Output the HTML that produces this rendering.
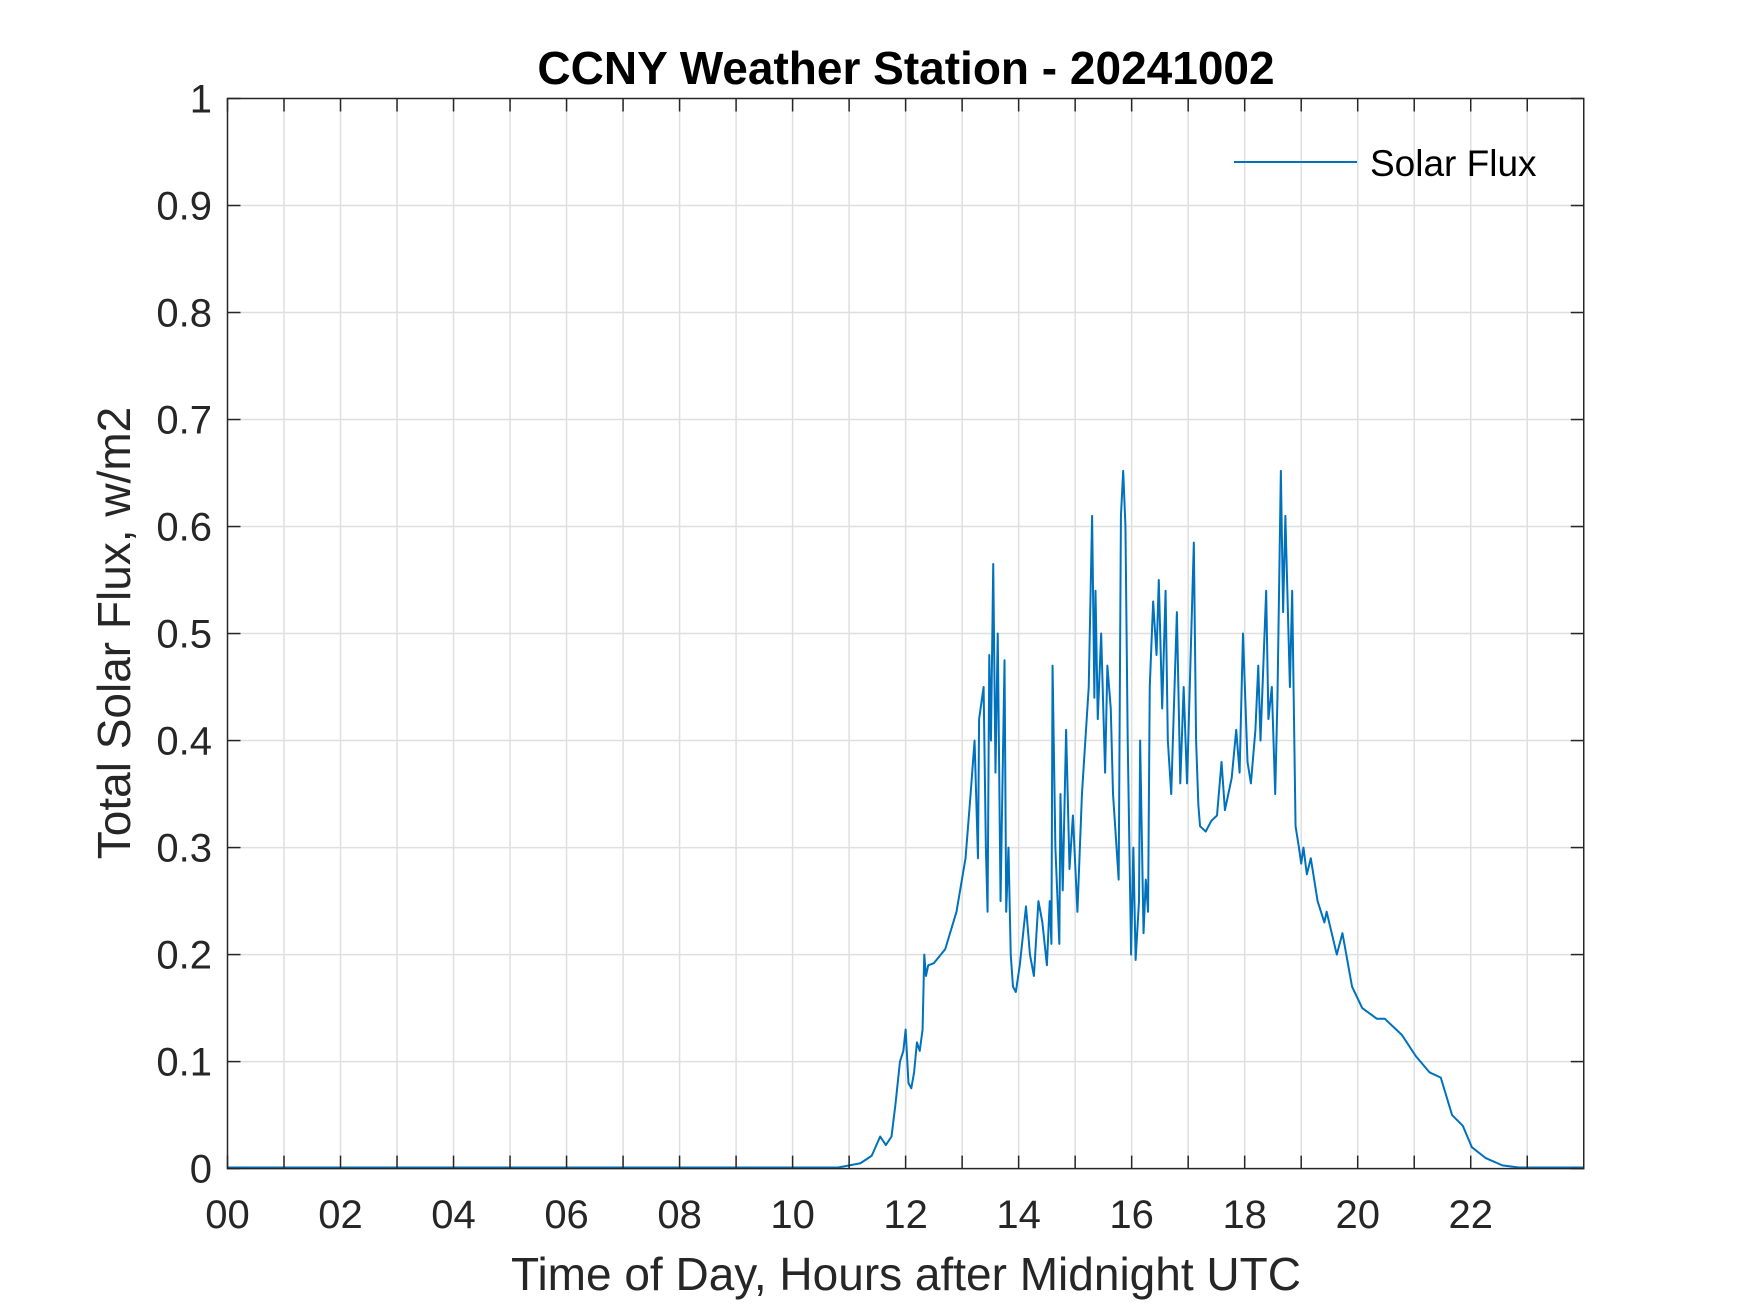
<!DOCTYPE html>
<html><head><meta charset="utf-8"><style>
html,body{margin:0;padding:0;background:#fff;}
svg{display:block;font-family:"Liberation Sans",Arial,sans-serif;}
</style></head><body>
<svg id="chart" width="1750" height="1313" viewBox="0 0 1750 1313" xmlns="http://www.w3.org/2000/svg">
<rect width="1750" height="1313" fill="#fff"/>
<g id="grid"></g>
<g id="series"></g>
<g id="axes"></g>
<text x="906" y="84" text-anchor="middle" font-size="46" font-weight="bold" fill="#000">CCNY Weather Station - 20241002</text>
<text x="906" y="1290" text-anchor="middle" font-size="46" fill="#262626">Time of Day, Hours after Midnight UTC</text>
<text transform="translate(130,633) rotate(-90)" text-anchor="middle" font-size="46" fill="#262626">Total Solar Flux, w/m2</text>
<g>
<line x1="1234" y1="162" x2="1357" y2="162" stroke="#0072BD" stroke-width="2"/>
<text x="1370" y="176" font-size="37" fill="#000">Solar Flux</text>
</g>
</svg>
<script>
const xTicks = [0,1,2,3,4,5,6,7,8,9,10,11,12,13,14,15,16,17,18,19,20,21,22,23,24];
const xTickLabels = ["00","","02","","04","","06","","08","","10","","12","","14","","16","","18","","20","","22","",""];
const yTicks = [0,0.1,0.2,0.3,0.4,0.5,0.6,0.7,0.8,0.9,1];
const yTickLabels = ["0","0.1","0.2","0.3","0.4","0.5","0.6","0.7","0.8","0.9","1"];
const hours = [0,2,4,6,8,10,10.8,10.9,11.2,11.4,11.55,11.65,11.75,11.82,11.9,11.96,12.0,12.05,12.1,12.15,12.2,12.25,12.3,12.33,12.36,12.4,12.5,12.7,12.9,13.06,13.15,13.22,13.28,13.3,13.38,13.42,13.45,13.48,13.51,13.55,13.59,13.63,13.68,13.75,13.78,13.82,13.86,13.9,13.95,14.02,14.13,14.2,14.27,14.35,14.42,14.5,14.55,14.58,14.6,14.65,14.72,14.74,14.78,14.84,14.9,14.96,15.04,15.12,15.24,15.3,15.34,15.36,15.4,15.46,15.53,15.57,15.63,15.67,15.77,15.81,15.85,15.89,15.93,15.99,16.03,16.07,16.13,16.15,16.21,16.25,16.29,16.32,16.38,16.44,16.48,16.54,16.6,16.64,16.7,16.8,16.86,16.92,16.98,17.1,17.14,17.18,17.21,17.31,17.41,17.51,17.59,17.65,17.77,17.85,17.91,17.97,18.05,18.11,18.19,18.24,18.28,18.38,18.42,18.48,18.54,18.58,18.64,18.68,18.72,18.8,18.84,18.9,18.96,19.0,19.04,19.1,19.17,19.29,19.41,19.45,19.63,19.73,19.9,20.08,20.34,20.48,20.68,20.78,21.03,21.27,21.47,21.67,21.86,22.02,22.26,22.56,22.85,23.2,24];
const flux = [0.001,0.001,0.001,0.001,0.001,0.001,0.001,0.002,0.005,0.012,0.03,0.022,0.03,0.06,0.1,0.11,0.13,0.08,0.075,0.09,0.118,0.11,0.13,0.2,0.18,0.19,0.192,0.205,0.24,0.29,0.35,0.4,0.29,0.42,0.45,0.3,0.24,0.48,0.4,0.565,0.37,0.5,0.25,0.475,0.24,0.3,0.2,0.17,0.165,0.19,0.245,0.2,0.18,0.25,0.23,0.19,0.25,0.21,0.47,0.3,0.21,0.35,0.26,0.41,0.28,0.33,0.24,0.35,0.45,0.61,0.44,0.54,0.42,0.5,0.37,0.47,0.43,0.35,0.27,0.61,0.652,0.6,0.4,0.2,0.3,0.195,0.25,0.4,0.22,0.27,0.24,0.45,0.53,0.48,0.55,0.43,0.54,0.4,0.35,0.52,0.36,0.45,0.36,0.585,0.4,0.34,0.32,0.315,0.325,0.33,0.38,0.335,0.365,0.41,0.37,0.5,0.38,0.36,0.41,0.47,0.4,0.54,0.42,0.45,0.35,0.44,0.652,0.52,0.61,0.45,0.54,0.32,0.3,0.285,0.3,0.275,0.29,0.25,0.23,0.24,0.2,0.22,0.17,0.15,0.14,0.14,0.13,0.125,0.105,0.09,0.085,0.05,0.04,0.02,0.01,0.003,0.001,0.001,0.001];

const L=227.5,R=1583.75,T=98.5,B=1168.6;
const xMin=0,xMax=24,yMin=0,yMax=1;
function xs(v){return L+(v-xMin)/(xMax-xMin)*(R-L);}
function ys(v){return B-(v-yMin)/(yMax-yMin)*(B-T);}
const NS="http://www.w3.org/2000/svg";
function mk(tag,attrs,parent){const e=document.createElementNS(NS,tag);for(const k in attrs)e.setAttribute(k,attrs[k]);parent.appendChild(e);return e;}
const grid=document.getElementById('grid'),axes=document.getElementById('axes'),series=document.getElementById('series');
const tl=13;
xTicks.forEach((t,i)=>{
  const x=xs(t);
  if(t>xMin&&t<xMax){
    const g=mk('line',{x1:x,y1:T,x2:x,y2:B,stroke:'#dfdfdf','stroke-width':1.5},grid);
    
    
  }
  const a=mk('line',{x1:x,y1:B,x2:x,y2:B-tl,stroke:'#262626','stroke-width':1.5},axes);
  
  
  const b=mk('line',{x1:x,y1:T,x2:x,y2:T+tl,stroke:'#262626','stroke-width':1.5},axes);
  
  
  if(xTickLabels[i]){
    const tx=mk('text',{x:x,y:1228,'text-anchor':'middle','font-size':40,fill:'#262626'},axes);
    tx.textContent=xTickLabels[i];
    
    
  }
});
yTicks.forEach((t,i)=>{
  const y=ys(t);
  if(t>yMin&&t<yMax){
    const g=mk('line',{x1:L,y1:y,x2:R,y2:y,stroke:'#dfdfdf','stroke-width':1.5},grid);
    
    
  }
  const a=mk('line',{x1:L,y1:y,x2:L+tl,y2:y,stroke:'#262626','stroke-width':1.5},axes);
  
  
  const b=mk('line',{x1:R,y1:y,x2:R-tl,y2:y,stroke:'#262626','stroke-width':1.5},axes);
  
  
  const tx=mk('text',{x:212,y:y+14,'text-anchor':'end','font-size':40,fill:'#262626'},axes);
  tx.textContent=yTickLabels[i];
  
  
});
const box=mk('rect',{x:L,y:T,width:R-L,height:B-T,fill:'none',stroke:'#262626','stroke-width':1.5},axes);


const d=hours.map((h,i)=>(i?'L':'M')+xs(h).toFixed(2)+','+ys(flux[i]).toFixed(2)).join(' ');
const p=mk('path',{d:d,fill:'none',stroke:'#0072BD','stroke-width':2,'stroke-linejoin':'round'},series);


</script>
</body></html>
